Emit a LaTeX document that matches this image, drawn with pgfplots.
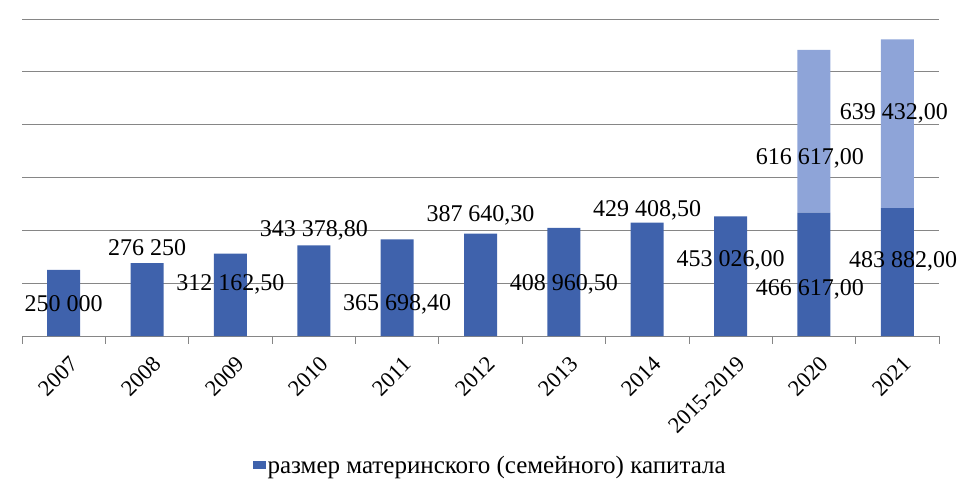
\documentclass[border=0pt]{standalone}
\usepackage{fontspec}
\setmainfont{Liberation Serif}
\usepackage{pgfplots}
\pgfplotsset{compat=1.18}
\definecolor{darkbar}{RGB}{63,98,172}
\definecolor{lightbar}{RGB}{142,164,216}
\definecolor{gridgray}{RGB}{134,134,134}
\tikzset{lbl/.style={anchor=base, font=\rmfamily\fontsize{24}{28}\selectfont, inner sep=0pt, text=black}}

\begin{document}
\begin{tikzpicture}
\begin{axis}[
  set layers=standard,
  scale only axis, width=917pt, height=317pt,
  xmin=-0.5, xmax=10.5, ymin=0, ymax=1200000,
  ybar stacked, bar width=33pt,
  axis line style={draw=none},
  scaled y ticks=false,
  ytick={0,200000,...,1200000}, yticklabels={}, ymajorgrids,
  grid style={gridgray, line width=0.8pt},
  ytick style={draw=none},
  xtick={0,...,10},
  minor xtick={-0.5,0.5,...,10.5},
  xtick pos=bottom, tick align=outside,
  major tick length=0pt, minor tick length=7.5pt,
  minor tick style={gridgray, line width=0.8pt},
  xticklabels={\textrm{2007},\textrm{2008},\textrm{2009},\textrm{2010},\textrm{2011},\textrm{2012},\textrm{2013},\textrm{2014},\textrm{2015-2019},\textrm{2020},\textrm{2021}},
  xticklabel style={rotate=45, anchor=north east, inner sep=0pt,
    font=\rmfamily\fontsize{22.5}{26}\selectfont, yshift=-17pt, xshift=-10pt},
  clip=false,
  legend style={at={(0.5105,-0.41)}, anchor=center, draw=none,
    font=\rmfamily\fontsize{25}{29}\selectfont},
  legend image code/.code={\fill[darkbar] (0pt,-0.3em) rectangle (13pt,0.45em);},
]
\addplot[fill=darkbar, draw=none, on layer=pre main] coordinates {
  (0,250000) (1,276250) (2,312162.5) (3,343378.8) (4,365698.4) (5,387640.3)
  (6,408960.5) (7,429408.5) (8,453026) (9,466617) (10,483882)};
\addlegendentry{размер материнского (семейного) капитала}
\addplot[fill=lightbar, draw=none, forget plot, on layer=pre main] coordinates {
  (0,0) (1,0) (2,0) (3,0) (4,0) (5,0) (6,0) (7,0) (8,0) (9,616617) (10,639432)};

\node[lbl] at (axis cs:0,92000) {250 000};
\node[lbl] at (axis cs:1,303600) {276 250};
\node[lbl] at (axis cs:2,173000) {312 162,50};
\node[lbl] at (axis cs:3,375900) {343 378,80};
\node[lbl] at (axis cs:4,98400) {365 698,40};
\node[lbl] at (axis cs:5,434200) {387 640,30};
\node[lbl] at (axis cs:6,174100) {408 960,50};
\node[lbl] at (axis cs:7,451600) {429 408,50};
\node[lbl] at (axis cs:8,263900) {453 026,00};
\node[lbl] at (axis cs:8.95,152200) {466 617,00};
\node[lbl] at (axis cs:8.95,650000) {616 617,00};
\node[lbl] at (axis cs:10.07,260100) {483 882,00};
\node[lbl] at (axis cs:9.96,821100) {639 432,00};
\end{axis}
\path (-22pt,-157pt) rectangle (957pt,336pt);
\end{tikzpicture}
\end{document}
